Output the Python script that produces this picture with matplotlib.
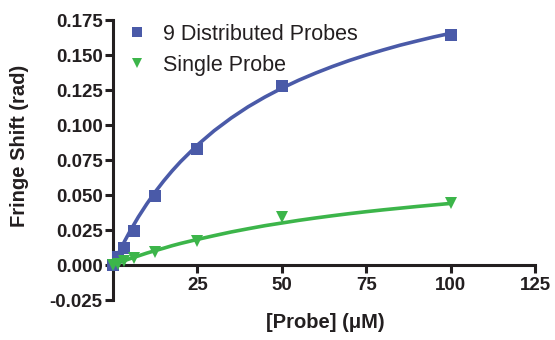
import matplotlib
matplotlib.use('Agg')
import matplotlib.pyplot as plt

plt.rcParams['font.family'] = ['Liberation Sans', 'DejaVu Sans']

#%% data

conc = [0, 1.5625, 3.125, 6.25, 12.5, 25, 50, 100]
distributed = [0.0, 0.006, 0.012, 0.024, 0.049, 0.083, 0.128, 0.164]
single = [0.0, 0.001, 0.003, 0.005, 0.009, 0.017, 0.034, 0.044]

# fitted curves
fit_x = [0, 1, 2, 3.5, 5, 7.5, 10, 12.5, 15, 17.5, 20, 25, 30, 35, 40, 45,
         50, 55, 60, 65, 70, 75, 80, 85, 90, 95, 100]
fit_distributed = [0.0, 0.0052, 0.0102, 0.0173, 0.024, 0.0343, 0.0436, 0.0522,
                   0.060, 0.0672, 0.0738, 0.0857, 0.096, 0.105, 0.113, 0.120,
                   0.1263, 0.132, 0.1371, 0.1418, 0.1461, 0.150, 0.1536, 0.157,
                   0.160, 0.1629, 0.1655]
fit_single = [0.0, 0.0009, 0.0019, 0.0032, 0.0045, 0.0065, 0.0085, 0.0103,
              0.012, 0.0138, 0.0154, 0.0183, 0.021, 0.0236, 0.0259, 0.0281,
              0.030, 0.0319, 0.0336, 0.0352, 0.0367, 0.0381, 0.0394, 0.0406,
              0.0418, 0.0429, 0.044]

xticks = [25, 50, 75, 100, 125]
yticks = [-0.025, 0.0, 0.025, 0.05, 0.075, 0.1, 0.125, 0.15, 0.175]

blue = '#4a5aa8'
green = '#3cb54a'
ink = '#231f20'

#%% plot

fig = plt.figure(figsize=(5.55, 3.4), dpi=100)
ax = fig.add_axes([0.2036, 0.1176, 0.7604, 0.8235])

ax.plot(fit_x, fit_distributed, color=blue, lw=2.6, zorder=2, clip_on=False)
ax.plot(fit_x, fit_single, color=green, lw=2.6, zorder=2, clip_on=False)
ax.plot(conc, distributed, 's', color=blue, ms=8.5, mew=0, zorder=3,
        clip_on=False, label='9 Distributed Probes')
ax.plot(conc, single, 'v', color=green, ms=9, mew=0, zorder=3,
        clip_on=False, label='Single Probe')

ax.set_xlim(0, 125)
ax.set_ylim(-0.025, 0.175)

ax.spines['top'].set_visible(False)
ax.spines['right'].set_visible(False)
ax.spines['bottom'].set_position(('data', 0))
for s in ['left', 'bottom']:
    ax.spines[s].set_linewidth(2.2)
    ax.spines[s].set_color(ink)

ax.set_xticks(xticks)
ax.set_xticklabels([str(t) for t in xticks], fontsize=13.5, fontweight='bold', color=ink)
ax.set_yticks(yticks)
ax.set_yticklabels(['%.3f' % t for t in yticks], fontsize=13.5, fontweight='bold', color=ink)
ax.tick_params(axis='both', direction='out', width=2.2, length=5.5, color=ink)
ax.tick_params(axis='x', pad=3)
ax.tick_params(axis='y', pad=2)

ax.set_xlabel('[Probe] (\u03bcM)', fontsize=14.5, fontweight='bold', color=ink)
ax.set_ylabel('Fringe Shift (rad)', fontsize=14.5, fontweight='bold', color=ink)
ax.xaxis.set_label_coords(0.502, -0.045)
ax.yaxis.set_label_coords(-0.2, 0.55)

leg = ax.legend(loc='upper left', bbox_to_anchor=(0.0, 1.04), frameon=False,
                fontsize=15.5, handlelength=0.8, handletextpad=0.8,
                labelspacing=0.45, borderaxespad=0.3, markerscale=0.85)
for t in leg.get_texts():
    t.set_color(ink)

fig.savefig('out.png', dpi=100)
